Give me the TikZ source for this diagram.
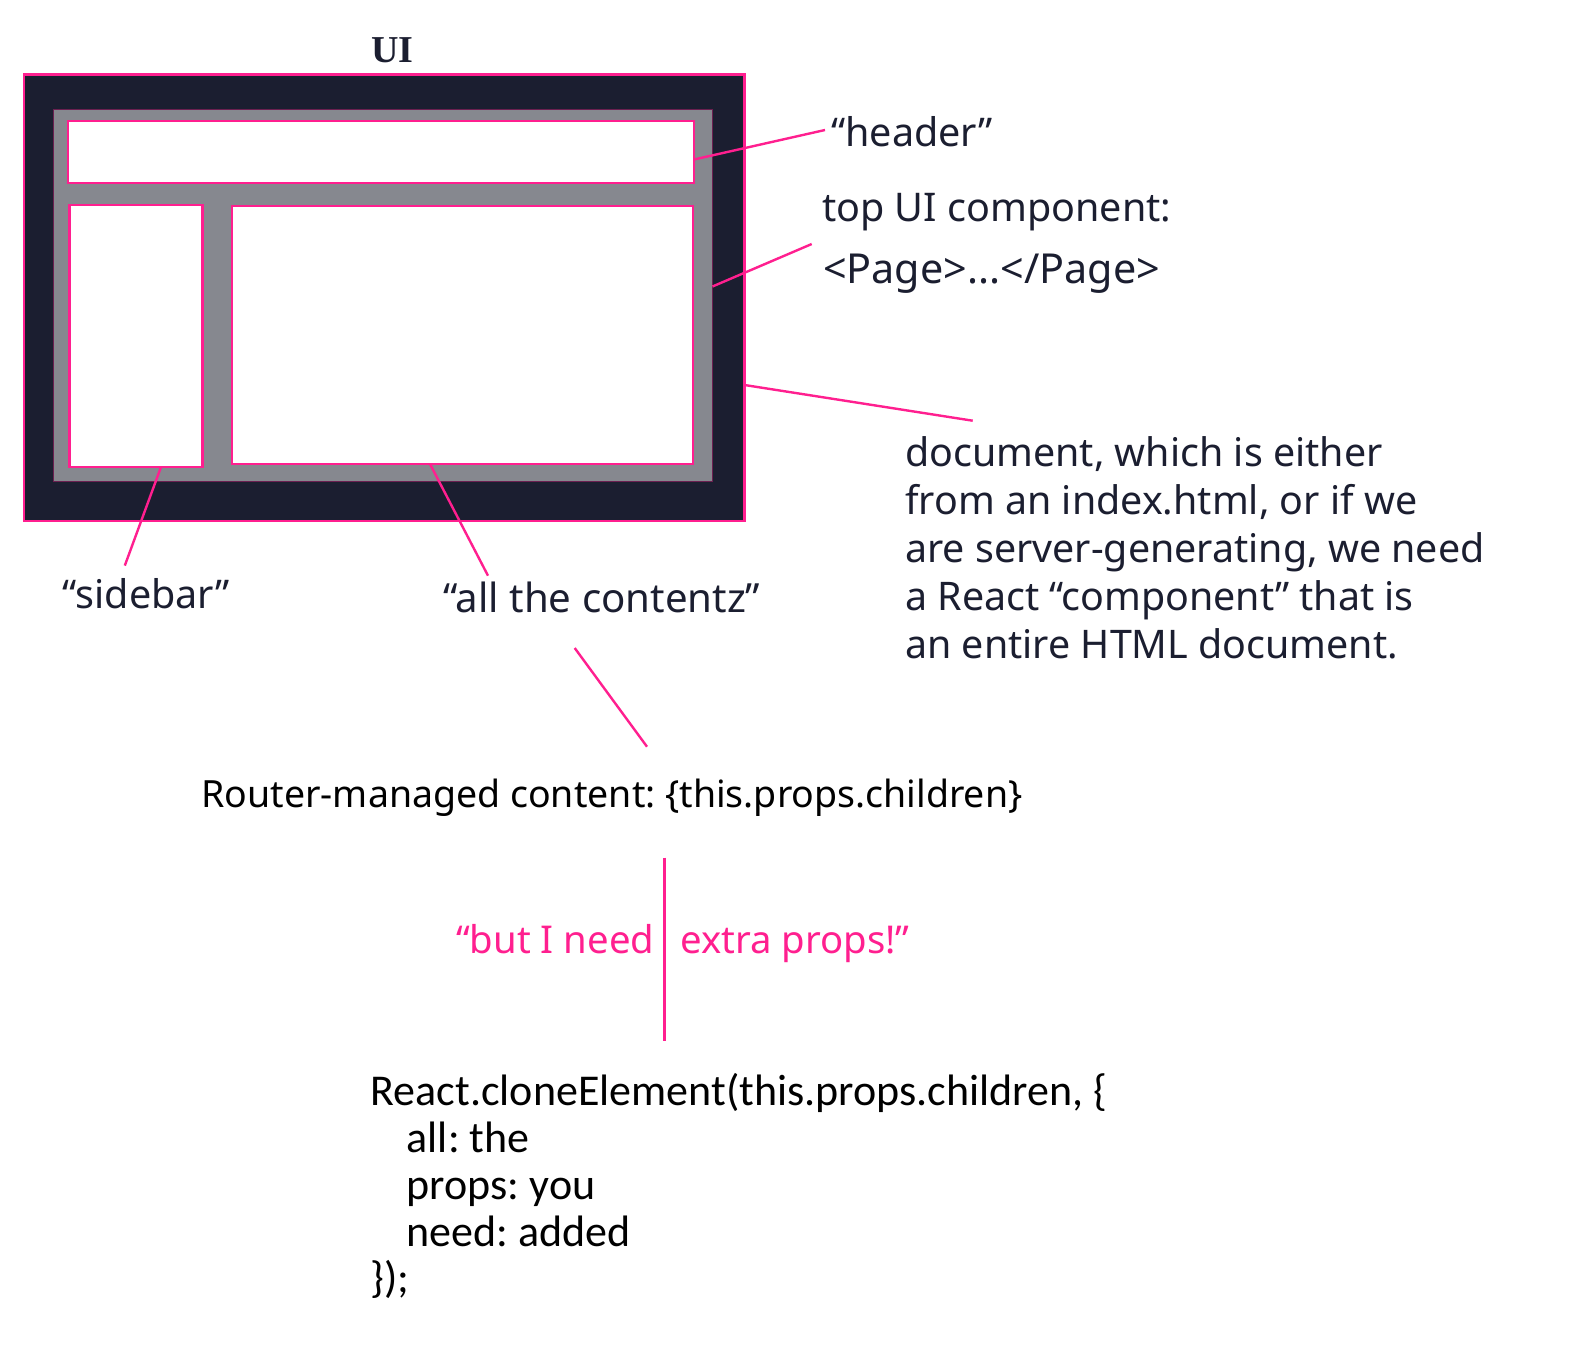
\documentclass[tikz,border=0pt]{standalone}
\usepackage{fontspec}
\setmainfont{Noto Sans}
\newfontfamily\codefont{Carlito}
\newfontfamily\titlefont{Liberation Serif}
\definecolor{hotpink}{HTML}{FF1F8F}
\definecolor{navy}{HTML}{1B1E30}
\definecolor{panelgray}{HTML}{86888F}
\definecolor{plum}{HTML}{6B2050}
\frenchspacing
\tikzset{
  conn/.style={draw=hotpink, line width=2.4pt},
  whitebox/.style={draw=hotpink, fill=white, line width=2.2pt},
  lbl/.style={inner sep=0pt, anchor=base west, text=navy, font=\fontsize{39.5}{48}\selectfont},
  paraline/.style={inner sep=0pt, anchor=base west, text=navy, font=\fontsize{39.4}{48}\selectfont},
  codetxt/.style={inner sep=0pt, anchor=base west, text=black, font=\codefont\fontsize{44}{47.5}\selectfont},
  pinktxt/.style={inner sep=0pt, anchor=base west, text=hotpink, font=\fontsize{38.3}{48}\selectfont}
}
\begin{document}
\begin{tikzpicture}[x=1pt,y=-1pt]
\useasboundingbox (0,0) rectangle (1578,1368);
% frame
\draw[fill=navy, draw=hotpink, line width=2.2pt] (24,74.5) rectangle (744.5,521);
\draw[fill=panelgray, draw=plum, line width=1.6pt] (53.5,109.5) rectangle (712.5,481.5);
\draw[whitebox] (68,121) rectangle (694,183);
\draw[whitebox] (69.5,205) rectangle (202.5,467);
\draw[whitebox] (232,206) rectangle (693,464);
\node[inner sep=0pt, anchor=base, text=navy, font=\titlefont\bfseries\fontsize{38}{45}\selectfont] (ui) at (392.5,62.3) {UI};
% anchor coordinates on the boxes
\coordinate (hdrE) at (694,159.5);
\coordinate (pageE) at (712.5,286.5);
\coordinate (docE) at (744.5,385);
\coordinate (sideS) at (161,467);
\coordinate (contS) at (430,464);
% labels
\node[lbl] (header) at (831,146.7) {“header”};
\node[lbl] (top) at (822,221.7) {top UI component:};
\node[lbl, font=\fontsize{41.3}{48}\selectfont] (page) at (823,283.3) {<Page>...</Page>};
\node[paraline] (d1) at (905,466.7) {document, which is either};
\node[paraline] (d2) at (905,514.7) {from an index.html, or if we};
\node[paraline] (d3) at (905,562.7) {are server-generating, we need};
\node[paraline] (d4) at (905,610.7) {a React “component” that is};
\node[paraline] (d5) at (905,658.5) {an entire HTML document.};
\node[lbl] (sidebar) at (62.4,608.3) {“sidebar”};
\node[lbl, font=\fontsize{40.2}{48}\selectfont] (contentz) at (442.8,612.7) {“all the contentz”};
\node[inner sep=0pt, anchor=base west, text=black, font=\fontsize{37.5}{48}\selectfont] (router) at (201.3,807.3) {Router-managed content: \{this.props.children\}};
\node[pinktxt] (but) at (456,953.3) {“but I need};
\node[pinktxt] (extra) at (680,953.3) {extra props!”};
\node[codetxt] (c1) at (370.4,1105) {React.cloneElement(this.props.children, \{};
\node[codetxt] (c2) at (406.6,1152) {all: the};
\node[codetxt] (c3) at (406.6,1199) {props: you};
\node[codetxt] (c4) at (406.6,1246) {need: added};
\node[codetxt] (c5) at (370.4,1292) {\});};
% connectors
\coordinate (hdrL) at (825,130);
\coordinate (pageL) at (811.7,244);
\coordinate (docL) at (972.7,420.7);
\coordinate (sideL) at (124.8,565.6);
\coordinate (contL) at (488,575.7);
\coordinate (routA) at (574.7,648);
\coordinate (routB) at (647,746.7);
\coordinate (vTop) at (664.5,857.5);
\coordinate (vBot) at (664.5,1041);
\draw[conn] (hdrE) -- (hdrL);
\draw[conn] (pageE) -- (pageL);
\draw[conn] (docE) -- (docL);
\draw[conn] (sideS) -- (sideL);
\draw[conn] (contS) -- (contL);
\draw[conn] (routA) -- (routB);
\draw[conn] (vTop) -- (vBot);
\end{tikzpicture}
\end{document}
